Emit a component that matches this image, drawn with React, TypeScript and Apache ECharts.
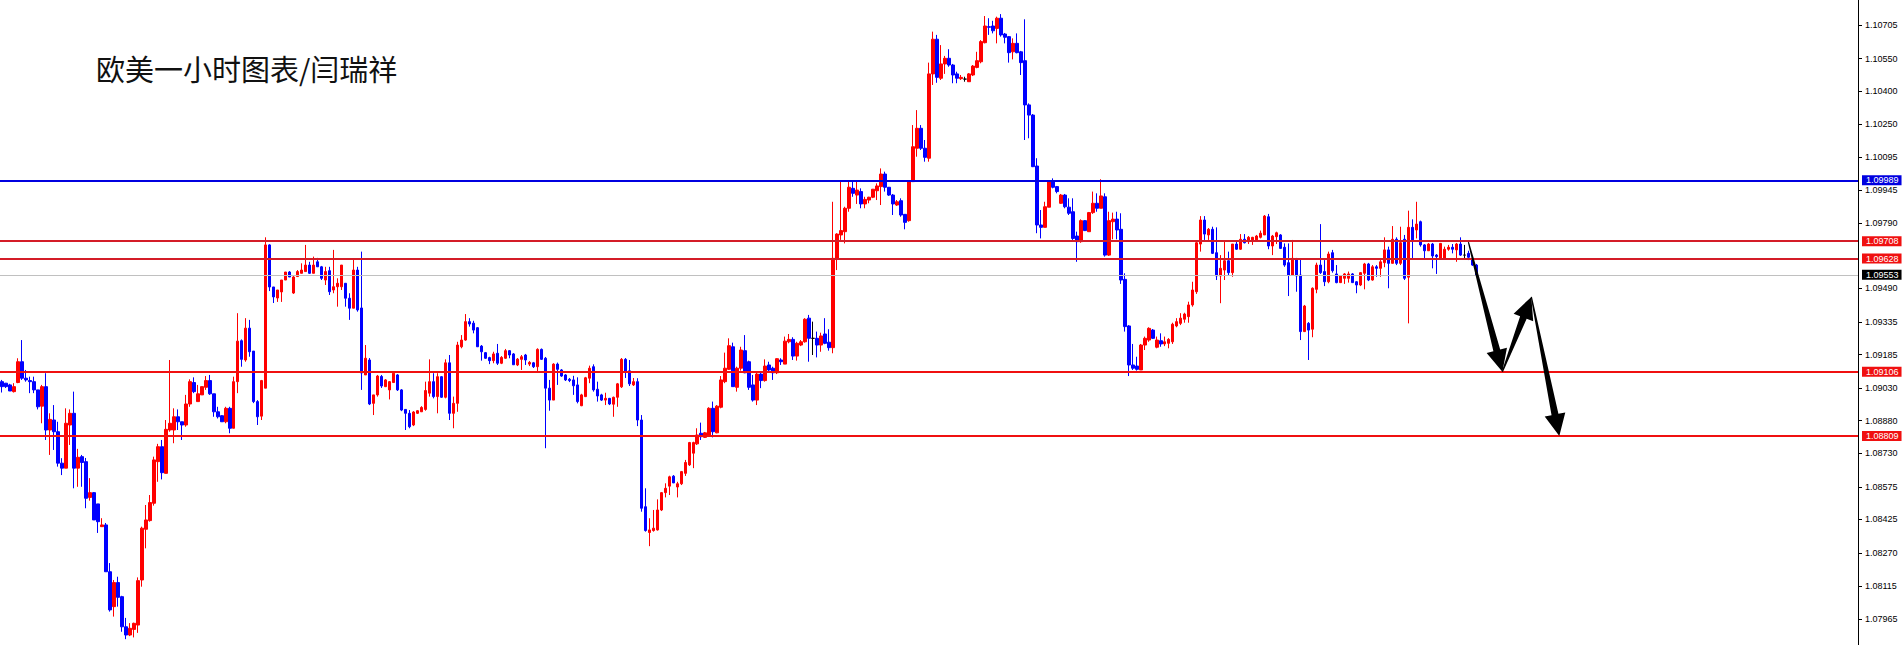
import React, { useEffect, useRef } from "react";
import * as echarts from "echarts";

const TITLE = "欧美一小时图表/闫瑞祥";

// Hourly EURUSD candles (oldest first)
const opens = [
1.09060,1.09053,1.09045,1.09014,1.09056,1.09152,1.09076,1.09065,1.09060,1.09022,
1.08947,1.09037,1.08837,1.08883,1.08829,1.08684,1.08661,1.08860,1.08914,1.08661,
1.08714,1.08691,1.08526,1.08548,1.08496,1.08391,1.08399,1.08183,1.08022,1.08133,
1.08068,1.07929,1.07891,1.07917,1.07937,1.08145,1.08379,1.08419,1.08499,1.08691,
1.08760,1.08637,1.08837,1.08837,1.08898,1.08875,1.08860,1.08957,1.09056,1.08968,
1.08999,1.09034,1.09065,1.09004,1.08921,1.08903,1.08875,1.08937,1.08845,1.09060,
1.09249,1.09160,1.09307,1.09201,1.08968,1.08901,1.09030,1.09691,1.09497,1.09446,
1.09474,1.09529,1.09566,1.09469,1.09545,1.09560,1.09568,1.09598,1.09560,1.09613,
1.09590,1.09529,1.09572,1.09483,1.09498,1.09498,1.09514,1.09445,1.09399,1.09575,
1.09400,1.09091,1.09160,1.08960,1.08999,1.09084,1.09037,1.09022,1.09056,1.09091,
1.09022,1.08932,1.08914,1.08860,1.08914,1.08921,1.08932,1.09007,1.09060,1.08991,
1.09083,1.08988,1.09147,1.08914,1.08960,1.09221,1.09252,1.09337,1.09330,1.09309,
1.09224,1.09194,1.09171,1.09157,1.09191,1.09145,1.09168,1.09203,1.09188,1.09137,
1.09163,1.09183,1.09141,1.09147,1.09129,1.09209,1.09168,1.09030,1.08975,1.09141,
1.09114,1.09091,1.09071,1.09068,1.09045,1.08949,1.08991,1.09076,1.09129,1.09025,
1.08999,1.08975,1.08983,1.08956,1.08988,1.09036,1.09163,1.09110,1.09045,1.09060,
1.08883,1.08483,1.08364,1.08373,1.08376,1.08468,1.08548,1.08578,1.08624,1.08574,
1.08589,1.08637,1.08676,1.08730,1.08773,1.08822,1.08803,1.08814,1.08937,1.08824,
1.08942,1.09060,1.09117,1.09221,1.09034,1.09122,1.09203,1.09152,1.09045,1.08975,
1.09095,1.09065,1.09137,1.09122,1.09101,1.09160,1.09141,1.09244,1.09255,1.09178,
1.09229,1.09244,1.09353,1.09260,1.09260,1.09229,1.09280,1.09242,1.09217,1.09629,
1.09737,1.09752,1.09860,1.09952,1.09921,1.09937,1.09880,1.09898,1.09911,1.09941,
1.09960,1.10018,1.09957,1.09921,1.09875,1.09895,1.09832,1.09803,1.09983,1.10137,
1.10229,1.10137,1.10091,1.10480,1.10640,1.10460,1.10526,1.10552,1.10521,1.10480,
1.10458,1.10456,1.10444,1.10475,1.10510,1.10536,1.10624,1.10698,1.10701,1.10690,
1.10737,1.10664,1.10652,1.10582,1.10621,1.10582,1.10541,1.10337,1.10290,1.10055,
1.09783,1.09772,1.09865,1.09987,1.09960,1.09883,1.09921,1.09865,1.09844,1.09732,
1.09706,1.09803,1.09752,1.09840,1.09883,1.09860,1.09913,1.09644,1.09798,1.09810,
1.09763,1.09532,1.09317,1.09137,1.09132,1.09114,1.09229,1.09252,1.09298,1.09219,
1.09249,1.09234,1.09237,1.09244,1.09317,1.09329,1.09348,1.09360,1.09414,1.09475,
1.09695,1.09806,1.09737,1.09763,1.09655,1.09548,1.09575,1.09618,1.09563,1.09695,
1.09671,1.09717,1.09706,1.09714,1.09714,1.09726,1.09737,1.09821,1.09686,1.09729,
1.09737,1.09680,1.09609,1.09552,1.09625,1.09552,1.09291,1.09329,1.09302,1.09486,
1.09598,1.09568,1.09521,1.09655,1.09557,1.09517,1.09537,1.09537,1.09557,1.09521,
1.09506,1.09560,1.09603,1.09529,1.09590,1.09583,1.09609,1.09668,1.09606,1.09717,
1.09606,1.09717,1.09542,1.09772,1.09760,1.09798,1.09691,1.09664,1.09695,1.09644,
1.09629,1.09629,1.09671,1.09680,1.09668,1.09695,1.09644,1.09652,1.09629,1.09598,
];

const closes = [
1.09037,1.09037,1.09017,1.09037,1.09152,1.09076,1.09068,1.09060,1.09022,1.08944,
1.09037,1.08837,1.08886,1.08829,1.08684,1.08661,1.08868,1.08914,1.08661,1.08711,
1.08687,1.08522,1.08548,1.08422,1.08414,1.08399,1.08183,1.08007,1.08133,1.08065,
1.07929,1.07891,1.07922,1.07945,1.08142,1.08384,1.08422,1.08502,1.08699,1.08760,
1.08640,1.08840,1.08868,1.08898,1.08875,1.08860,1.08957,1.09060,1.09014,1.09004,
1.09037,1.09065,1.09004,1.08921,1.08898,1.08875,1.08937,1.08845,1.09060,1.09247,
1.09163,1.09307,1.09198,1.08968,1.08898,1.09065,1.09691,1.09497,1.09451,1.09483,
1.09529,1.09566,1.09543,1.09543,1.09568,1.09575,1.09598,1.09560,1.09598,1.09590,
1.09537,1.09568,1.09475,1.09498,1.09514,1.09598,1.09445,1.09399,1.09575,1.09391,
1.09100,1.09168,1.08957,1.08999,1.09086,1.09040,1.09068,1.09060,1.09099,1.09022,
1.08929,1.08914,1.08852,1.08920,1.08926,1.08941,1.09019,1.09060,1.08991,1.09083,
1.08988,1.09147,1.08914,1.08960,1.09229,1.09252,1.09337,1.09326,1.09298,1.09221,
1.09198,1.09168,1.09157,1.09188,1.09145,1.09172,1.09203,1.09183,1.09138,1.09164,
1.09175,1.09160,1.09149,1.09129,1.09209,1.09163,1.09030,1.08975,1.09141,1.09117,
1.09086,1.09068,1.09065,1.09041,1.08968,1.08999,1.09078,1.09122,1.09022,1.08994,
1.08975,1.08983,1.08957,1.08988,1.09050,1.09163,1.09106,1.09050,1.09060,1.08883,
1.08476,1.08373,1.08376,1.08384,1.08468,1.08548,1.08568,1.08621,1.08593,1.08589,
1.08645,1.08687,1.08779,1.08779,1.08814,1.08806,1.08824,1.08937,1.08829,1.08947,
1.09068,1.09122,1.09226,1.09037,1.09122,1.09206,1.09101,1.09034,1.08975,1.09095,
1.09065,1.09132,1.09114,1.09101,1.09166,1.09152,1.09247,1.09255,1.09178,1.09237,
1.09244,1.09348,1.09260,1.09260,1.09229,1.09271,1.09237,1.09217,1.09629,1.09741,
1.09757,1.09860,1.09957,1.09929,1.09944,1.09880,1.09901,1.09911,1.09948,1.09963,
1.10018,1.09957,1.09921,1.09880,1.09890,1.09829,1.09795,1.09983,1.10144,1.10229,
1.10137,1.10095,1.10480,1.10640,1.10464,1.10526,1.10552,1.10521,1.10475,1.10460,
1.10464,1.10456,1.10480,1.10516,1.10541,1.10629,1.10701,1.10695,1.10679,1.10737,
1.10660,1.10649,1.10578,1.10621,1.10578,1.10532,1.10337,1.10290,1.10052,1.09783,
1.09772,1.09867,1.09987,1.09957,1.09937,1.09921,1.09867,1.09837,1.09721,1.09706,
1.09803,1.09757,1.09840,1.09883,1.09860,1.09917,1.09644,1.09803,1.09810,1.09760,
1.09529,1.09314,1.09137,1.09122,1.09117,1.09229,1.09260,1.09306,1.09260,1.09252,
1.09234,1.09244,1.09255,1.09325,1.09337,1.09353,1.09372,1.09414,1.09483,1.09701,
1.09806,1.09741,1.09763,1.09652,1.09548,1.09583,1.09618,1.09563,1.09695,1.09671,
1.09717,1.09701,1.09726,1.09726,1.09732,1.09745,1.09824,1.09686,1.09732,1.09747,
1.09675,1.09598,1.09552,1.09629,1.09548,1.09291,1.09409,1.09298,1.09491,1.09598,
1.09563,1.09521,1.09649,1.09572,1.09517,1.09548,1.09557,1.09557,1.09517,1.09506,
1.09563,1.09603,1.09529,1.09590,1.09583,1.09613,1.09668,1.09606,1.09717,1.09606,
1.09701,1.09537,1.09772,1.09714,1.09787,1.09691,1.09664,1.09695,1.09640,1.09637,
1.09698,1.09671,1.09680,1.09671,1.09695,1.09644,1.09644,1.09634,1.09598,1.09553,
];

const highs = [
1.09068,1.09054,1.09050,1.09053,1.09168,1.09252,1.09114,1.09083,1.09083,1.09022,
1.09045,1.09099,1.08914,1.08952,1.08875,1.08707,1.08937,1.08932,1.09014,1.08750,
1.08722,1.08708,1.08615,1.08551,1.08496,1.08430,1.08408,1.08223,1.08145,1.08160,
1.08072,1.07970,1.07946,1.07948,1.08157,1.08391,1.08491,1.08537,1.08714,1.08773,
1.08791,1.08883,1.09160,1.08937,1.08932,1.08875,1.08999,1.09071,1.09080,1.09045,
1.09037,1.09086,1.09091,1.09004,1.08944,1.08906,1.08944,1.08944,1.09083,1.09376,
1.09255,1.09353,1.09345,1.09201,1.08975,1.09068,1.09726,1.09694,1.09497,1.09483,
1.09529,1.09566,1.09570,1.09547,1.09575,1.09606,1.09691,1.09613,1.09637,1.09631,
1.09594,1.09590,1.09590,1.09668,1.09537,1.09598,1.09515,1.09468,1.09629,1.09590,
1.09660,1.09229,1.09169,1.08999,1.09091,1.09091,1.09072,1.09063,1.09105,1.09095,
1.09026,1.08933,1.08929,1.08924,1.08929,1.08947,1.09060,1.09163,1.09099,1.09099,
1.09086,1.09163,1.09183,1.08991,1.09244,1.09275,1.09372,1.09353,1.09341,1.09312,
1.09229,1.09197,1.09175,1.09198,1.09234,1.09178,1.09211,1.09206,1.09192,1.09169,
1.09183,1.09188,1.09155,1.09151,1.09214,1.09213,1.09174,1.09068,1.09145,1.09148,
1.09118,1.09095,1.09077,1.09087,1.09080,1.09004,1.09082,1.09134,1.09140,1.09060,
1.09004,1.09009,1.08985,1.08991,1.09054,1.09169,1.09169,1.09160,1.09077,1.09076,
1.08906,1.08568,1.08430,1.08468,1.08517,1.08551,1.08591,1.08626,1.08629,1.08598,
1.08648,1.08699,1.08782,1.08783,1.08845,1.08871,1.08828,1.08942,1.08968,1.08952,
1.09086,1.09194,1.09260,1.09240,1.09129,1.09221,1.09275,1.09157,1.09091,1.09101,
1.09101,1.09163,1.09152,1.09129,1.09168,1.09168,1.09268,1.09280,1.09265,1.09244,
1.09252,1.09353,1.09368,1.09337,1.09291,1.09286,1.09353,1.09302,1.09890,1.09745,
1.09990,1.09867,1.09983,1.09983,1.09990,1.09952,1.09913,1.09913,1.09949,1.09975,
1.10044,1.10029,1.09958,1.09926,1.09898,1.09906,1.09833,1.09990,1.10244,1.10313,
1.10244,1.10175,1.10532,1.10675,1.10660,1.10613,1.10563,1.10594,1.10526,1.10490,
1.10475,1.10467,1.10484,1.10521,1.10582,1.10636,1.10747,1.10737,1.10725,1.10744,
1.10756,1.10669,1.10655,1.10644,1.10667,1.10586,1.10732,1.10344,1.10295,1.10091,
1.09852,1.09890,1.09990,1.09998,1.09963,1.09926,1.09926,1.09906,1.09906,1.09752,
1.09809,1.09806,1.09843,1.09937,1.09929,1.09994,1.09929,1.09844,1.09840,1.09844,
1.09837,1.09560,1.09321,1.09234,1.09175,1.09234,1.09268,1.09311,1.09303,1.09268,
1.09283,1.09268,1.09261,1.09332,1.09353,1.09376,1.09378,1.09429,1.09521,1.09706,
1.09824,1.09824,1.09769,1.09775,1.09772,1.09644,1.09706,1.09660,1.09695,1.09706,
1.09741,1.09741,1.09732,1.09728,1.09737,1.09757,1.09829,1.09834,1.09737,1.09752,
1.09741,1.09698,1.09698,1.09714,1.09631,1.09629,1.09414,1.09335,1.09495,1.09609,
1.09787,1.09621,1.09660,1.09668,1.09598,1.09552,1.09561,1.09568,1.09561,1.09524,
1.09566,1.09608,1.09608,1.09598,1.09598,1.09621,1.09726,1.09683,1.09778,1.09726,
1.09775,1.09737,1.09849,1.09809,1.09890,1.09803,1.09695,1.09700,1.09700,1.09649,
1.09700,1.09683,1.09691,1.09695,1.09700,1.09726,1.09691,1.09664,1.09635,1.09603,
];

const lows = [
1.09010,1.09031,1.09017,1.09010,1.09053,1.09068,1.09060,1.09007,1.09007,1.08932,
1.08868,1.08791,1.08722,1.08745,1.08668,1.08629,1.08661,1.08768,1.08568,1.08575,
1.08575,1.08476,1.08511,1.08422,1.08362,1.08390,1.08183,1.07999,1.07976,1.08022,
1.07906,1.07872,1.07886,1.07880,1.07901,1.08114,1.08291,1.08414,1.08488,1.08598,
1.08609,1.08637,1.08829,1.08776,1.08837,1.08791,1.08852,1.08944,1.09007,1.08968,
1.08999,1.09022,1.08999,1.08898,1.08890,1.08874,1.08868,1.08822,1.08845,1.09007,
1.09129,1.09152,1.09175,1.08961,1.08860,1.08883,1.09030,1.09478,1.09423,1.09428,
1.09428,1.09529,1.09543,1.09465,1.09543,1.09560,1.09568,1.09557,1.09560,1.09589,
1.09529,1.09506,1.09460,1.09468,1.09406,1.09483,1.09406,1.09345,1.09399,1.09383,
1.09022,1.09091,1.08952,1.08906,1.08991,1.09031,1.09035,1.08978,1.09054,1.09017,
1.08924,1.08837,1.08845,1.08855,1.08911,1.08920,1.08926,1.08991,1.08983,1.08914,
1.08985,1.08983,1.08883,1.08845,1.08921,1.09214,1.09249,1.09314,1.09283,1.09220,
1.09157,1.09165,1.09141,1.09145,1.09137,1.09141,1.09165,1.09168,1.09137,1.09132,
1.09114,1.09137,1.09132,1.09123,1.09106,1.09160,1.08753,1.08926,1.08975,1.09045,
1.09082,1.09063,1.09058,1.08999,1.08960,1.08947,1.08989,1.09053,1.09014,1.08968,
1.08971,1.08952,1.08952,1.08898,1.08944,1.09031,1.09077,1.09040,1.09040,1.08855,
1.08460,1.08368,1.08301,1.08368,1.08373,1.08463,1.08526,1.08537,1.08592,1.08526,
1.08583,1.08625,1.08671,1.08661,1.08768,1.08791,1.08800,1.08806,1.08803,1.08822,
1.08937,1.09053,1.09114,1.09037,1.09014,1.09111,1.09099,1.09022,1.08968,1.08952,
1.09030,1.09060,1.09106,1.09068,1.09095,1.09137,1.09141,1.09237,1.09160,1.09157,
1.09224,1.09240,1.09152,1.09183,1.09172,1.09198,1.09233,1.09203,1.09191,1.09575,
1.09714,1.09698,1.09844,1.09913,1.09880,1.09860,1.09860,1.09883,1.09907,1.09898,
1.09875,1.09937,1.09917,1.09829,1.09871,1.09821,1.09763,1.09798,1.09981,1.10098,
1.10129,1.10075,1.10075,1.10429,1.10439,1.10452,1.10480,1.10513,1.10437,1.10437,
1.10452,1.10444,1.10443,1.10470,1.10506,1.10529,1.10621,1.10660,1.10667,1.10621,
1.10652,1.10621,1.10532,1.10547,1.10575,1.10475,1.10175,1.10183,1.10050,1.09745,
1.09721,1.09772,1.09865,1.09952,1.09929,1.09880,1.09860,1.09829,1.09714,1.09613,
1.09701,1.09755,1.09751,1.09834,1.09844,1.09860,1.09637,1.09640,1.09717,1.09717,
1.09511,1.09291,1.09086,1.09114,1.09111,1.09114,1.09206,1.09244,1.09257,1.09214,
1.09221,1.09224,1.09214,1.09234,1.09311,1.09321,1.09332,1.09332,1.09406,1.09465,
1.09660,1.09714,1.09714,1.09649,1.09529,1.09422,1.09529,1.09552,1.09544,1.09668,
1.09668,1.09698,1.09695,1.09691,1.09714,1.09721,1.09737,1.09671,1.09644,1.09695,
1.09672,1.09590,1.09455,1.09552,1.09475,1.09252,1.09289,1.09160,1.09265,1.09468,
1.09557,1.09501,1.09514,1.09563,1.09514,1.09515,1.09511,1.09517,1.09515,1.09468,
1.09501,1.09486,1.09524,1.09526,1.09544,1.09544,1.09588,1.09491,1.09606,1.09598,
1.09598,1.09529,1.09329,1.09629,1.09721,1.09683,1.09629,1.09663,1.09583,1.09557,
1.09629,1.09625,1.09664,1.09652,1.09613,1.09640,1.09625,1.09621,1.09594,1.09552,
];

// price scale tick labels shown on the right
const yTickValues = [
  1.10705, 1.10550, 1.10400, 1.10250, 1.10095, 1.09945, 1.09790,
  1.09490, 1.09335, 1.09185, 1.09030, 1.08880, 1.08730, 1.08575,
  1.08425, 1.08270, 1.08115, 1.07965,
];
const Y_MIN = 1.07845;
const Y_MAX = 1.10821;

// horizontal levels
const pivotLevel = 1.09989;
const upperLevels = [1.09708, 1.09628];
const lowerLevels = [1.09106, 1.08809];
const currentPrice = 1.09553;

// forecast zig-zag: [bar slot, price]
const forecastPath: [number, number][] = [
  [367, 1.09704],
  [375.5, 1.09106],
  [382.75, 1.09451],
  [389.75, 1.08809],
];

const SLOT_COUNT = 465;

const RED = "#ff0000";
const BLUE = "#0000ff";
const AXIS_FONT = '"Liberation Sans", Arial, sans-serif';

function arrowPolygon(s: number[], e: number[], w0: number, w1: number, headLen: number, headHalf: number) {
  const dx = e[0] - s[0];
  const dy = e[1] - s[1];
  const len = Math.hypot(dx, dy);
  const ux = dx / len, uy = dy / len;
  const nx = -uy, ny = ux;
  const bx = e[0] - ux * headLen, by = e[1] - uy * headLen;
  return [
    [s[0] + nx * w0, s[1] + ny * w0],
    [bx + nx * w1, by + ny * w1],
    [bx + nx * headHalf, by + ny * headHalf],
    [e[0], e[1]],
    [bx - nx * headHalf, by - ny * headHalf],
    [bx - nx * w1, by - ny * w1],
    [s[0] - nx * w0, s[1] - ny * w0],
  ];
}

function levelLine(value: number, lineColor: string, boxColor: string, width: number) {
  return {
    yAxis: value,
    lineStyle: { color: lineColor, width, type: "solid" },
    label: {
      show: true,
      position: "end",
      distance: 4,
      formatter: () => value.toFixed(5),
      color: "#ffffff",
      backgroundColor: boxColor,
      padding: [1, 3, 0, 4],
      fontSize: 9,
      lineHeight: 9,
      fontFamily: AXIS_FONT,
    },
  };
}

export default function App() {
  const ref = useRef<HTMLDivElement>(null);

  useEffect(() => {
    const el = ref.current;
    if (!el) return;
    const chart = echarts.init(el, null, { renderer: "svg" });
    const slots = Array.from({ length: SLOT_COUNT }, (_, i) => String(i));
    const candles = opens.map((o, i) => [o, closes[i], lows[i], highs[i]]);

    const option: any = {
      animation: false,
      backgroundColor: "#ffffff",
      grid: { left: -2, right: 45, top: 0, bottom: 0, containLabel: false },
      xAxis: {
        type: "category",
        data: slots,
        boundaryGap: true,
        show: false,
      },
      yAxis: {
        type: "value",
        position: "right",
        min: Y_MIN,
        max: Y_MAX,
        axisLine: { show: true, onZero: false, lineStyle: { color: "#000000", width: 1 } },
        axisTick: {
          show: true,
          inside: false,
          length: 4,
          customValues: yTickValues,
          lineStyle: { color: "#000000", width: 1 },
        },
        axisLabel: {
          show: true,
          customValues: yTickValues,
          formatter: (v: number) => v.toFixed(5),
          color: "#000000",
          fontSize: 9,
          fontFamily: AXIS_FONT,
          margin: 7,
        },
        splitLine: { show: false },
      },
      series: [
        {
          type: "candlestick",
          data: candles,
          barWidth: 3,
          itemStyle: {
            color: RED,
            color0: BLUE,
            borderColor: RED,
            borderColor0: BLUE,
            borderColorDoji: "#000000",
            borderWidth: 1,
          },
          markLine: {
            silent: true,
            symbol: ["none", "none"],
            animation: false,
            precision: 5,
            data: [
              levelLine(currentPrice, "#c0c0c0", "#000000", 1),
              levelLine(pivotLevel, "#0000e0", "#0000e0", 2),
              ...upperLevels.map((v) => levelLine(v, "#d41c28", "#f01010", 2)),
              ...lowerLevels.map((v) => levelLine(v, "#f01010", "#f01010", 2)),
            ],
          },
        },
      ],
    };
    chart.setOption(option);

    const p0 = chart.convertToPixel({ gridIndex: 0 }, [0, Y_MIN]) as number[];
    const p1 = chart.convertToPixel({ gridIndex: 0 }, [1, Y_MIN]) as number[];
    const slotW = p1[0] - p0[0];
    const toPx = (pt: [number, number]) => {
      const b = Math.floor(pt[0]);
      const p = chart.convertToPixel({ gridIndex: 0 }, [b, pt[1]]) as number[];
      return [p[0] + (pt[0] - b) * slotW, p[1]];
    };
    const pts = forecastPath.map(toPx);
    const arrows = [];
    for (let k = 0; k < pts.length - 1; k++) {
      arrows.push({
        type: "polygon",
        z: 100,
        silent: true,
        shape: { points: arrowPolygon(pts[k], pts[k + 1], 0.6, 3.5, 22, 10.5) },
        style: { fill: "#000000" },
      });
    }

    chart.setOption({
      graphic: [
        {
          type: "text",
          x: 96,
          y: 68,
          z: 100,
          silent: true,
          style: {
            text: TITLE,
            fontSize: 29,
            fontFamily: '"Noto Sans CJK SC", sans-serif',
            fill: "#111111",
            verticalAlign: "middle",
            textVerticalAlign: "middle",
            align: "left",
            textAlign: "left",
          },
        },
        ...arrows,
      ],
    });

    return () => chart.dispose();
  }, []);

  return (
    <div
      ref={ref}
      style={{ position: "fixed", left: 0, top: 0, width: 1903, height: 645, background: "#ffffff" }}
    />
  );
}
